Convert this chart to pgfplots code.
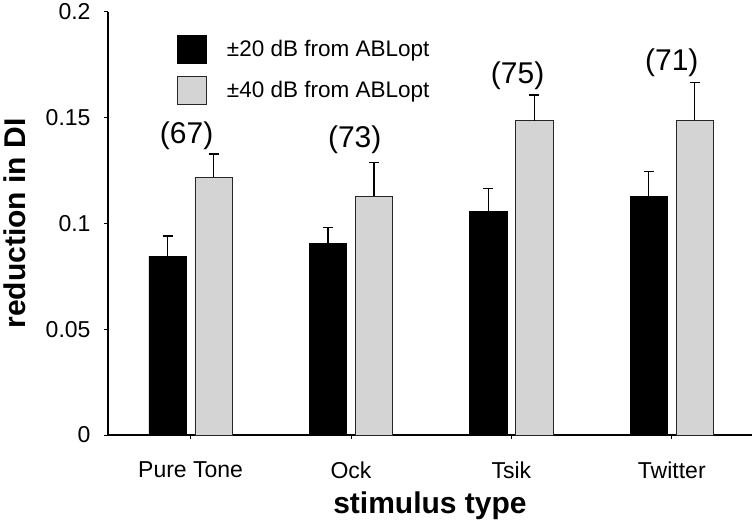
\documentclass[border=0pt]{standalone}
\usepackage{pgfplots}
\pgfplotsset{compat=1.18}
\usepackage{fontspec}
\setmainfont{Liberation Sans}
\definecolor{lgray}{RGB}{212,212,212}

\begin{document}
\begin{tikzpicture}
\begin{axis}[
  scale only axis, width=644bp, height=423bp,
  xmin=-0.515, xmax=3.5, ymin=0, ymax=0.2,
  axis x line*=bottom, axis y line*=left,
  xtick={0,1,2,3}, xticklabels={Pure Tone,Ock,Tsik,Twitter},
  ytick={0,0.05,0.1,0.15,0.2}, yticklabels={0,0.05,0.1,0.15,0.2},
  tick align=outside, major tick length=4bp,
  tick style={black, line width=1bp},
  axis line style={line width=1.1bp, black},
  ticklabel style={font=\fontsize{23bp}{27bp}\selectfont},
  xticklabel style={yshift=-19bp},
  yticklabel style={xshift=-10bp},
  xlabel={stimulus type}, ylabel={reduction in DI},
  every axis x label/.style={at={(axis description cs:0.5,-0.1678)}, anchor=center},
  every axis y label/.style={at={(axis description cs:-0.1444,0.5)}, rotate=90, anchor=center},
  label style={font=\bfseries\fontsize{30bp}{34bp}\selectfont},
  ybar, bar width=37.3bp,
  legend style={draw=none, fill=none, at={(0.107,0.946)}, anchor=north west,
    inner sep=0pt, row sep=12bp, column sep=18bp,
    font=\fontsize{22.5bp}{26bp}\selectfont},
  legend cell align=left,
]
\addplot[bar shift=-23bp, fill=black, draw=black, line width=0.8bp,
  legend image code/.code={\draw[fill=black,draw=black,line width=0.8bp] (0bp,-14bp) rectangle (29bp,14bp);},
  error bars/.cd, y dir=plus, y explicit, error mark=|,
  error bar style={line width=1.2bp, black},
  error mark options={line width=1.2bp, mark size=5bp, black}]
  coordinates {(0,0.0846) +- (0,0.0095) (1,0.0905) +- (0,0.0077) (2,0.1056) +- (0,0.0110) (3,0.1130) +- (0,0.0117)};
\addlegendentry{±20 dB from ABLopt}
\addplot[bar shift=23bp, fill=lgray, draw=black!85, line width=0.9bp,
  legend image code/.code={\draw[fill=lgray,draw=black!85,line width=0.9bp] (0bp,-14bp) rectangle (29bp,14bp);},
  error bars/.cd, y dir=plus, y explicit, error mark=|,
  error bar style={line width=1.2bp, black},
  error mark options={line width=1.2bp, mark size=5bp, black}]
  coordinates {(0,0.1218) +- (0,0.0111) (1,0.1130) +- (0,0.0158) (2,0.1486) +- (0,0.0122) (3,0.1489) +- (0,0.0177)};
\addlegendentry{±40 dB from ABLopt}
\node[font=\fontsize{30bp}{34bp}\selectfont] at (axis cs:-0.025,0.1414) {(67)};
\node[font=\fontsize{30bp}{34bp}\selectfont] at (axis cs:1.023,0.1395) {(73)};
\node[font=\fontsize{30bp}{34bp}\selectfont] at (axis cs:2.039,0.1697) {(75)};
\node[font=\fontsize{30bp}{34bp}\selectfont] at (axis cs:3.0,0.1759) {(71)};
\end{axis}
\pgfresetboundingbox
\path (-108bp,-89bp) rectangle (648bp,435bp);
\end{tikzpicture}
\end{document}
